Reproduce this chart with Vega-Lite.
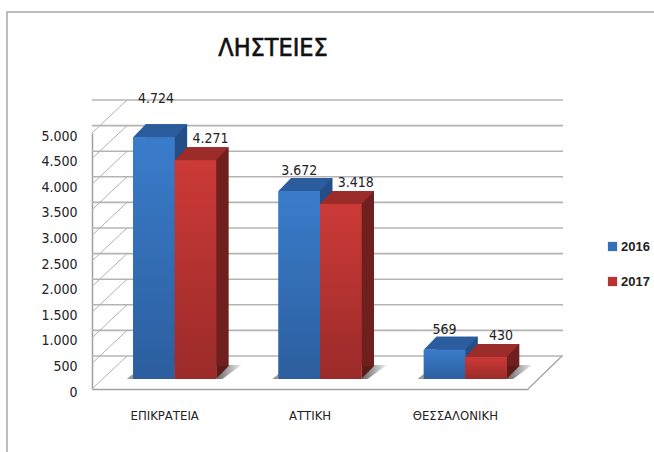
{
"$schema":"https://vega.github.io/schema/vega-lite/v6.json",
"width":436,"height":256,"autosize":"none",
"padding":{"left":92,"top":133,"right":126,"bottom":63},
"background":"white",
"config":{"view":{"stroke":null},"axis":{"labelOverlap":false},"axisY":{"tickCount":10},"locale":{"number":{"decimal":",","thousands":".","grouping":[3],"currency":["","€"]}},"font":"DejaVu Sans Condensed, Liberation Sans"},
"data":{"values":[
{"region":"ΕΠΙΚΡΑΤΕΙΑ","year":"2016","value":4724},
{"region":"ΕΠΙΚΡΑΤΕΙΑ","year":"2017","value":4271},
{"region":"ΑΤΤΙΚΗ","year":"2016","value":3672},
{"region":"ΑΤΤΙΚΗ","year":"2017","value":3418},
{"region":"ΘΕΣΣΑΛΟΝΙΚΗ","year":"2016","value":569},
{"region":"ΘΕΣΣΑΛΟΝΙΚΗ","year":"2017","value":430}
]},
"resolve":{"scale":{"fill":"independent","xOffset":"independent"},"legend":{"fill":"independent"}},
"layer":[
{"data":{"values":[{"k":"frame"}]},"mark":{"type":"point","shape":"M-303,191L-303,-249L344,-249","size":4,"filled":false,"stroke":"#a8a8a8","strokeWidth":1.5,"opacity":1,"clip":false},"encoding":{}},
{"data":{"values":[{"t":"ΛΗΣΤΕΙΕΣ"}]},"mark":{"type":"text","fontSize":25,"color":"#111","stroke":"#111","strokeWidth":0.6,"xOffset":-37,"yOffset":-213},"encoding":{"text":{"field":"t","type":"nominal"}}},
{"data":{"values":[{"tick":0},{"tick":500},{"tick":1000},{"tick":1500},{"tick":2000},{"tick":2500},{"tick":3000},{"tick":3500},{"tick":4000},{"tick":4500},{"tick":5000}]},
 "mark":{"type":"rule","stroke":"#b4b4b4","strokeWidth":1.6,"xOffset":35,"yOffset":-33},
 "encoding":{"y":{"field":"tick","type":"quantitative","scale":{"domain":[0,5000],"nice":false},"axis":{"title":null,"format":",d","tickCount":10,"grid":false,"ticks":false,"domainColor":"#a0a0a0","domainWidth":1.5,"labelPadding":15,"labelFontSize":14,"labelColor":"#222","labelOffset":3,"labelOverlap":false,"labelBound":false,"labelFlush":false}}}},
{"data":{"values":[{"tick":0},{"tick":500},{"tick":1000},{"tick":1500},{"tick":2000},{"tick":2500},{"tick":3000},{"tick":3500},{"tick":4000},{"tick":4500},{"tick":5000}]},
 "mark":{"type":"point","shape":"M-218,0L-183,-33","size":4,"filled":false,"stroke":"#b0b0b0","strokeWidth":1,"opacity":1},
 "encoding":{"y":{"field":"tick","type":"quantitative"}}},
{"data":{"values":[{"tick":0}]},
 "mark":{"type":"point","shape":"M218,0L252,-33","size":4,"filled":false,"stroke":"#a0a0a0","strokeWidth":1.2,"opacity":1},
 "encoding":{"y":{"field":"tick","type":"quantitative"}}},
{"transform":[{"filter":"datum.year=='2017'"}],
 "mark":{"type":"point","shape":"M20.75,0L27,0L46,-14L33,-14Z","size":4,"filled":true,"fill":{"x1":0,"y1":0,"x2":1,"y2":0,"gradient":"linear","stops":[{"offset":0,"color":"#666666"},{"offset":1,"color":"#eeeeee"}]},"opacity":1,"yOffset":-10},
 "encoding":{"x":{"field":"region","type":"nominal","sort":null,"scale":{"paddingInner":0,"paddingOuter":0}},"xOffset":{"field":"year","type":"nominal","scale":{"type":"band","domain":["2016","2017"],"range":[10,155.3],"paddingInner":0,"paddingOuter":0.75}},"y":{"datum":0,"type":"quantitative"}}},
{"transform":[{"filter":"datum.year=='2016'"}],
 "mark":{"type":"point","shape":"M-20.75,0L-27,0L-20.75,-5Z","size":4,"filled":true,"fill":"#999999","opacity":1,"yOffset":-10},
 "encoding":{"x":{"field":"region","type":"nominal","sort":null},"xOffset":{"field":"year","type":"nominal","scale":{"type":"band","domain":["2016","2017"],"range":[10,155.3],"paddingInner":0,"paddingOuter":0.75}},"y":{"datum":0,"type":"quantitative"}}},
{"mark":{"type":"bar","yOffset":-23},
 "encoding":{"x":{"field":"region","type":"nominal","sort":null,"axis":{"title":null,"labelAngle":0,"labelAlign":"center","labelBound":false,"labelFlush":false,"labelOverlap":false,"ticks":false,"domainColor":"#a0a0a0","domainWidth":1.5,"labelFontSize":13,"labelColor":"#222","labelPadding":26}},"xOffset":{"field":"year","type":"nominal","scale":{"domain":["2016","2017"],"range":[22.5,167.8],"paddingInner":0,"paddingOuter":0.75}},"y":{"field":"value","type":"quantitative"},
  "fill":{"field":"year","type":"nominal","legend":null,"scale":{"domain":["2016","2017"],"range":["#234e86","#6e1f1e"]}}}},
{"mark":{"type":"point","shape":"M20.75,0L33.25,-13L20.75,-13Z","size":4,"filled":true,"opacity":1,"yOffset":-10},
 "encoding":{"x":{"field":"region","type":"nominal","sort":null},"xOffset":{"field":"year","type":"nominal","scale":{"type":"band","domain":["2016","2017"],"range":[10,155.3],"paddingInner":0,"paddingOuter":0.75}},"y":{"datum":0,"type":"quantitative"},
  "fill":{"field":"year","type":"nominal","legend":null,"scale":{"domain":["2016","2017"],"range":["#234e86","#5c1a18"]}}}},
{"mark":{"type":"point","shape":"M-20.75,0L20.75,0L33.25,-13L-8.25,-13Z","size":4,"filled":true,"opacity":1,"yOffset":-10},
 "encoding":{"x":{"field":"region","type":"nominal","sort":null},"xOffset":{"field":"year","type":"nominal","scale":{"type":"band","domain":["2016","2017"],"range":[10,155.3],"paddingInner":0,"paddingOuter":0.75}},"y":{"field":"value","type":"quantitative"},
  "fill":{"field":"year","type":"nominal","legend":null,"scale":{"domain":["2016","2017"],"range":["#2a5c9e","#9c2c2a"]}}}},
{"mark":{"type":"bar","yOffset":-10},
 "encoding":{"x":{"field":"region","type":"nominal","sort":null},"xOffset":{"field":"year","type":"nominal","scale":{"domain":["2016","2017"],"range":[10,155.3],"paddingInner":0,"paddingOuter":0.75}},"y":{"field":"value","type":"quantitative"},
  "fill":{"field":"year","type":"nominal","title":null,
   "legend":{"orient":"none","legendX":514,"legendY":107,"symbolType":"square","symbolSize":85,"symbolStrokeWidth":0,"rowPadding":21,"labelFontSize":13,"labelFont":"Liberation Sans","labelFontWeight":"bold","labelColor":"#222","labelOffset":2},
   "scale":{"domain":["2016","2017"],"range":["#3370b8","#b53331"]}}}},
{"transform":[{"filter":"datum.year=='2016'"}],"mark":{"type":"bar","yOffset":-10,"fill":{"gradient":"linear","x1":0,"y1":0,"x2":0,"y2":1,"stops":[{"offset":0,"color":"#3a7ccb"},{"offset":1,"color":"#2c5e9e"}]}},
 "encoding":{"x":{"field":"region","type":"nominal","sort":null},"xOffset":{"field":"year","type":"nominal","scale":{"domain":["2016","2017"],"range":[10,155.3],"paddingInner":0,"paddingOuter":0.75}},"y":{"field":"value","type":"quantitative"}}},
{"transform":[{"filter":"datum.year=='2017'"}],"mark":{"type":"bar","yOffset":-10,"fill":{"gradient":"linear","x1":0,"y1":0,"x2":0,"y2":1,"stops":[{"offset":0,"color":"#cc3a37"},{"offset":1,"color":"#9a2b2a"}]}},
 "encoding":{"x":{"field":"region","type":"nominal","sort":null},"xOffset":{"field":"year","type":"nominal","scale":{"domain":["2016","2017"],"range":[10,155.3],"paddingInner":0,"paddingOuter":0.75}},"y":{"field":"value","type":"quantitative"}}},
{"transform":[{"filter":"datum.year=='2016' && datum.value<4000"}],
 "mark":{"type":"text","fontSize":14,"color":"#222","yOffset":-30},
 "encoding":{"x":{"field":"region","type":"nominal","sort":null},"xOffset":{"field":"year","type":"nominal","scale":{"type":"band","domain":["2016","2017"],"range":[10,155.3],"paddingInner":0,"paddingOuter":0.75}},"y":{"field":"value","type":"quantitative"},"text":{"field":"value","type":"quantitative","format":",d"}}},
{"transform":[{"filter":"datum.value==4724"}],
 "mark":{"type":"text","fontSize":14,"color":"#222","yOffset":-48},
 "encoding":{"x":{"field":"region","type":"nominal","sort":null},"xOffset":{"field":"year","type":"nominal","scale":{"type":"band","domain":["2016","2017"],"range":[12,157.3],"paddingInner":0,"paddingOuter":0.75}},"y":{"field":"value","type":"quantitative"},"text":{"field":"value","type":"quantitative","format":",d"}}},
{"transform":[{"filter":"datum.year=='2017'"}],
 "mark":{"type":"text","fontSize":14,"color":"#222","yOffset":-31},
 "encoding":{"x":{"field":"region","type":"nominal","sort":null},"xOffset":{"field":"year","type":"nominal","scale":{"type":"band","domain":["2016","2017"],"range":[25,170.3],"paddingInner":0,"paddingOuter":0.75}},"y":{"field":"value","type":"quantitative"},"text":{"field":"value","type":"quantitative","format":",d"}}}
]
}
